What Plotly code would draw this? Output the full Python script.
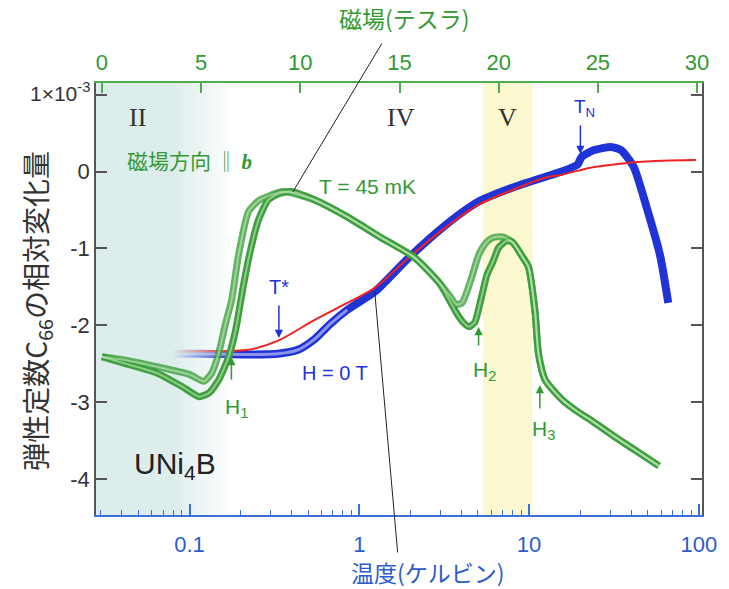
import plotly.graph_objects as go

# ---------------- data ----------------
# H = 0 T temperature sweep (bottom log axis, kelvin)
blue_T = [0.030, 0.058, 0.114, 0.222, 0.333, 0.435, 0.546, 0.677, 0.849, 1.24, 1.98, 3.25,
          5.05, 7.96, 12.4, 15.6, 19.3, 20.4, 24.2, 30.4, 34.8, 41.4, 49.2, 59.4, 66.1]
blue_v = [-2.36, -2.37, -2.37, -2.38, -2.37, -2.32, -2.18, -1.98, -1.80, -1.56, -1.11, -0.69,
          -0.39, -0.21, -0.07, 0.00, 0.09, 0.19, 0.28, 0.32, 0.28, 0.06, -0.46, -1.11, -1.71]

# fit curve (red)
red_T = [0.030, 0.114, 0.222, 0.333, 0.546, 0.849, 1.24, 1.98, 3.25, 5.05, 7.96, 12.4,
         15.6, 24.2, 37.0, 59.4, 96.2]
red_v = [-2.35, -2.34, -2.32, -2.20, -1.93, -1.71, -1.51, -1.11, -0.72, -0.43, -0.24, -0.08,
         -0.04, 0.06, 0.11, 0.14, 0.15]

# T = 45 mK field sweeps (top linear axis, tesla) - two branches of the hysteresis loop
g1_H = [0.0, 1.05, 2.75, 4.40, 5.14, 5.54, 5.89, 6.24, 6.54, 6.89, 7.39, 7.89, 8.38, 9.13,
        10.73, 12.37, 14.01, 15.71, 17.01, 17.6, 17.85, 18.15, 18.6, 19.0, 19.35, 19.7, 20.2,
        20.7, 21.2, 21.5, 21.84, 22.0, 22.34, 23.2, 23.84, 24.84, 25.84, 26.84, 28.08]
g1_v = [-2.41, -2.45, -2.54, -2.64, -2.73, -2.62, -2.36, -1.97, -1.67, -1.08, -0.52, -0.38,
        -0.32, -0.26, -0.37, -0.59, -0.85, -1.11, -1.45, -1.64, -1.73, -1.71, -1.41, -1.08,
        -0.93, -0.86, -0.85, -0.92, -1.11, -1.24, -1.84, -2.36, -2.71, -2.97, -3.10, -3.27,
        -3.45, -3.62, -3.83]
g2_H = [0.0, 1.05, 2.75, 4.05, 4.90, 5.40, 5.89, 6.39, 6.74, 7.14, 7.49, 7.89, 8.38, 8.88,
        9.53, 10.73, 12.37, 14.01, 15.71, 17.01, 17.36, 17.85, 18.2, 18.5, 18.8, 19.1, 19.4,
        19.7, 20.0, 20.4, 20.7, 21.2, 21.5, 21.84, 22.0, 22.34, 23.2, 23.84, 24.84, 25.84,
        26.84, 28.08]
g2_v = [-2.41, -2.49, -2.62, -2.80, -2.93, -2.88, -2.71, -2.41, -2.06, -1.47, -1.02, -0.63,
        -0.37, -0.29, -0.26, -0.37, -0.59, -0.85, -1.11, -1.45, -1.60, -1.83, -1.96, -2.02,
        -1.96, -1.67, -1.35, -1.18, -0.99, -0.90, -0.92, -1.11, -1.24, -1.84, -2.36, -2.71,
        -2.97, -3.10, -3.27, -3.45, -3.62, -3.83]

# axes
T_ticks = [0.1, 1, 10, 100]
T_ticktext = ["0.1", "1", "10", "100"]
T_minor = [m * 10.0 ** e for e in (-2, -1, 0, 1) for m in range(2, 10) if m * 10.0 ** e >= 0.03]
H_ticks = [0, 5, 10, 15, 20, 25, 30]
Y_ticks = [1, 0, -1, -2, -3, -4]
Y_ticktext = ["", "0", "-1", "-2", "-3", "-4"]

# shaded regions (field units)
regionII_H = [-0.3, 6.7]
regionV_H = [19.2, 21.7]

X_RANGE = [-1.551, 2.019]
H_RANGE = [-0.3, 30.25]
Y_RANGE = [-4.47, 1.153]

# ---------------- style ----------------
SANS = "Liberation Sans, Arial, Noto Sans CJK JP, sans-serif"
CJK = "Noto Sans CJK JP, Liberation Sans, sans-serif"
SERIF = "Liberation Serif, Times New Roman, serif"
GREEN = "#339933"
GREEN_LINE = "#3f9f3f"
GREEN_AX = "#4cae4c"
BLUE = "#1f33d6"
BLUE_AX = "#3d6fd9"
BLUE_TXT = "#2c5ccc"
DARK = "#333333"

L, R, T, B = 96, 20, 83, 74
W, H = 729, 589
PW, PH = W - L - R, H - T - B


def px(x):
    return (x - L) / PW


def py(y):
    return (H - B - y) / PH


fig = go.Figure()

# region II gradient band
fig.add_trace(go.Scatter(
    x=[regionII_H[0], regionII_H[1], regionII_H[1], regionII_H[0]],
    y=[Y_RANGE[0], Y_RANGE[0], Y_RANGE[1], Y_RANGE[1]],
    xaxis="x2", yaxis="y", mode="none", fill="toself",
    fillgradient=dict(type="horizontal",
                      colorscale=[[0, "rgba(220,237,236,1)"], [0.55, "rgba(220,237,236,1)"],
                                  [1, "rgba(220,237,236,0)"]]),
    hoverinfo="skip", showlegend=False))

# green field sweeps
for gx, gy, col in [(g1_H, g1_v, "rgba(60,160,60,0.8)"), (g2_H, g2_v, GREEN_LINE)]:
    fig.add_trace(go.Scatter(x=gx, y=gy, xaxis="x2", yaxis="y", mode="lines",
                             line=dict(color=col, width=7, shape="spline", smoothing=0.6),
                             hoverinfo="skip", showlegend=False))
for gx, gy in [(g1_H, g1_v), (g2_H, g2_v)]:
    fig.add_trace(go.Scatter(x=gx, y=gy, xaxis="x2", yaxis="y", mode="lines",
                             line=dict(color="rgba(205,238,198,0.55)", width=2, shape="spline",
                                       smoothing=0.6),
                             hoverinfo="skip", showlegend=False))

# blue H = 0 T
fig.add_trace(go.Scatter(x=blue_T, y=blue_v, xaxis="x", yaxis="y", mode="lines",
                         line=dict(color=BLUE, width=8, shape="spline", smoothing=0.6),
                         hoverinfo="skip", showlegend=False))
fig.add_trace(go.Scatter(x=blue_T[:9], y=blue_v[:9], xaxis="x", yaxis="y", mode="lines",
                         line=dict(color="rgba(190,190,245,0.7)", width=3, shape="spline",
                                   smoothing=0.6),
                         hoverinfo="skip", showlegend=False))
# red fit
fig.add_trace(go.Scatter(x=red_T, y=red_v, xaxis="x", yaxis="y", mode="lines",
                         line=dict(color="#ee2222", width=2, shape="spline", smoothing=0.8),
                         hoverinfo="skip", showlegend=False))

shapes = [dict(type="rect", xref="x2", yref="paper", x0=regionV_H[0], x1=regionV_H[1],
               y0=0, y1=1, fillcolor="#fcf8cf", line=dict(width=0), layer="below")]

ann = []


def text(xp, yp, s, size=20, color=DARK, family=SANS, xanchor="center"):
    ann.append(dict(x=px(xp), y=py(yp), xref="paper", yref="paper", text=s, showarrow=False,
                    font=dict(size=size, color=color, family=family), xanchor=xanchor,
                    yanchor="middle"))


def arrow(x0, y0, x1, y1, color, head=2, width=1.5):
    ann.append(dict(x=px(x1), y=py(y1), xref="paper", yref="paper", text="", showarrow=True,
                    ax=x0 - x1, ay=y0 - y1, axref="pixel", ayref="pixel",
                    arrowhead=head, arrowsize=1.1, arrowwidth=width, arrowcolor=color))


text(408, 18, "磁場(テスラ)", 23, GREEN, CJK)
text(432, 572, "温度(ケルビン)", 23, BLUE_TXT, CJK)
arrow(385, 42, 295, 192, "#222222", head=0, width=1)
arrow(401, 554, 378, 292, "#222222", head=0, width=1)
text(138, 117, "II", 26, DARK, SERIF)
text(405, 117, "IV", 26, DARK, SERIF)
text(512, 117, "V", 26, DARK, SERIF)
text(590, 108, "T<sub>N</sub>", 19, BLUE)
arrow(586, 124, 586, 154, BLUE)
text(281, 287, "T*", 20, BLUE)
arrow(281, 304, 281, 338, BLUE)
text(338, 373, "H = 0 T", 20, BLUE)
text(125, 160, "磁場方向 ‖ <b><i><span style='font-family:Liberation Serif'>b</span></i></b>",
     21, GREEN, CJK, xanchor="left")
text(371, 186, "T = 45 mK", 21, GREEN)
text(238, 408, "H<sub>1</sub>", 21, GREEN)
arrow(233, 381, 233, 357, GREEN)
text(489, 371, "H<sub>2</sub>", 21, GREEN)
arrow(483, 347, 483, 327, GREEN)
text(549, 430, "H<sub>3</sub>", 21, GREEN)
arrow(545, 410, 545, 385, GREEN)
text(176, 465, "UNi<sub>4</sub>B", 30, "#222222")
text(92, 92, "1×10<sup>-3</sup>", 21, DARK, xanchor="right")
ann.append(dict(x=px(36), y=py(311), xref="paper", yref="paper",
                text="弾性定数C<sub>66</sub>の相対変化量", showarrow=False, textangle=-90,
                font=dict(size=28, color=DARK, family=CJK), xanchor="center", yanchor="middle"))

fig.update_layout(
    width=W, height=H, margin=dict(l=L, r=R, t=T, b=B),
    paper_bgcolor="white", plot_bgcolor="white",
    showlegend=False, shapes=shapes, annotations=ann,
    xaxis=dict(type="log", range=X_RANGE, showline=True, linecolor=BLUE_AX, linewidth=1.5,
               ticks="inside", ticklen=11, tickwidth=1.5, tickcolor=BLUE_AX,
               tickvals=T_ticks, ticktext=T_ticktext,
               tickfont=dict(size=22, color=BLUE_TXT, family=SANS),
               minor=dict(ticks="inside", ticklen=5, tickwidth=1.2, tickcolor=BLUE_AX,
                          tickvals=T_minor, showgrid=False),
               showgrid=False, zeroline=False, ticklabelstandoff=9, anchor="y"),
    xaxis2=dict(overlaying="x", side="top", anchor="y", range=H_RANGE, showline=True,
                linecolor=GREEN_AX, linewidth=1.5, ticks="inside", ticklen=10, tickwidth=1.5,
                tickcolor=GREEN_AX, tickvals=H_ticks,
                tickfont=dict(size=22, color=GREEN, family=SANS),
                showgrid=False, zeroline=False, ticklabelstandoff=2),
    yaxis=dict(range=Y_RANGE, showline=True, linecolor="#555555", linewidth=1.5,
               mirror="ticks", ticks="inside", ticklen=11, tickwidth=1.5, tickcolor="#555555",
               tickvals=Y_ticks, ticktext=Y_ticktext,
               tickfont=dict(size=22, color=DARK, family=SANS),
               showgrid=False, zeroline=False),
)

fig.write_html("out.html", config={"displayModeBar": False},
               post_script="document.body.style.margin='0px';document.body.style.padding='0px';")
